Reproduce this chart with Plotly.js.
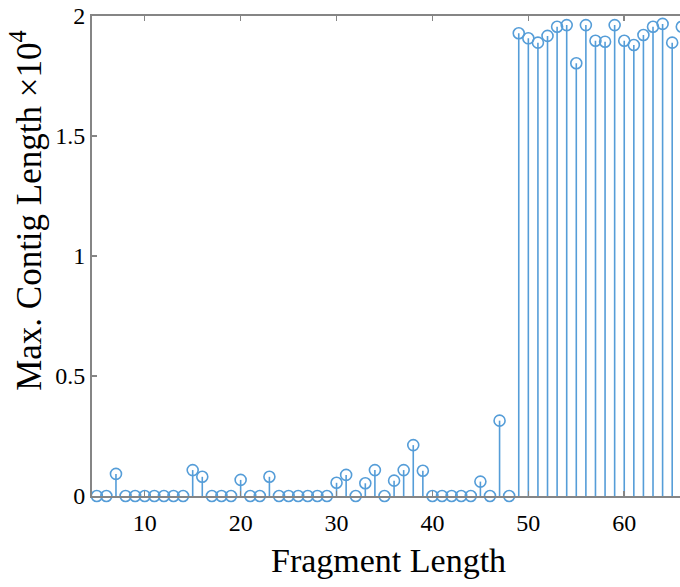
<!DOCTYPE html>
<html>
<head>
<meta charset="utf-8">
<script src="https://cdn.plot.ly/plotly-3.0.1.min.js"></script>
<style>
html, body { margin: 0; padding: 0; overflow: hidden; background: #fff; }
#chart { width: 720px; height: 587px; }
</style>
</head>
<body>
<div id="chart"></div>
<script>
// Fragment length (x) and max contig length in units of 10^4 (y)
var fragmentLength = [5, 6, 7, 8, 9, 10, 11, 12, 13, 14, 15, 16, 17, 18, 19, 20, 21, 22, 23, 24, 25, 26, 27, 28, 29, 30,
  31, 32, 33, 34, 35, 36, 37, 38, 39, 40, 41, 42, 43, 44, 45, 46, 47, 48,
  49, 50, 51, 52, 53, 54, 55, 56, 57, 58, 59, 60, 61, 62, 63, 64, 65, 66];
var maxContig = [0, 0, 0.092, 0, 0, 0, 0, 0, 0, 0, 0.108, 0.080, 0, 0, 0, 0.067, 0, 0, 0.080, 0, 0, 0, 0, 0, 0, 0.055,
  0.088, 0, 0.053, 0.108, 0, 0.064, 0.108, 0.212, 0.105, 0, 0, 0, 0, 0, 0.060, 0, 0.314, 0,
  1.928, 1.907, 1.889, 1.917, 1.955, 1.962, 1.803, 1.962, 1.897, 1.893, 1.962, 1.897, 1.879, 1.921, 1.955, 1.967, 1.889, 1.955];
var yTickVals = [0, 0.5, 1, 1.5, 2];
var yTickText = ["0", "0.5", "1", "1.5", "2"];
var xTickVals = [10, 20, 30, 40, 50, 60];
var xTickText = ["10", "20", "30", "40", "50", "60"];

var stemX = [], stemY = [];
for (var i = 0; i < fragmentLength.length; i++) {
  stemX.push(fragmentLength[i], fragmentLength[i], null);
  stemY.push(0, maxContig[i], null);
}

var blue = "#559dd8";
var traces = [
  {x: stemX, y: stemY, type: "scatter", mode: "lines",
   line: {color: blue, width: 1.6}, hoverinfo: "skip", cliponaxis: false, showlegend: false},
  {x: fragmentLength, y: maxContig, type: "scatter", mode: "markers",
   marker: {symbol: "circle-open", size: 11, color: blue, line: {color: blue, width: 1.6}},
   cliponaxis: false, showlegend: false}
];

var serif = "Liberation Serif, Times New Roman, serif";
var axisColor = "#858585";
var layout = {
  width: 720, height: 587,
  margin: {l: 92, r: 20, t: 16, b: 91},
  paper_bgcolor: "#fff", plot_bgcolor: "#fff",
  font: {family: serif, color: "#000"},
  xaxis: {range: [4.5, 67.9], tickvals: xTickVals, ticktext: xTickText,
    showgrid: false, zeroline: false, showline: true, mirror: "ticks",
    linecolor: axisColor, linewidth: 2, ticks: "inside", ticklen: 5, tickwidth: 1.5, tickcolor: axisColor,
    ticklabelstandoff: 4,
    tickfont: {family: serif, size: 24, color: "#000"}},
  yaxis: {range: [0, 2], tickvals: yTickVals, ticktext: yTickText,
    showgrid: false, zeroline: false, showline: true, mirror: "ticks",
    linecolor: axisColor, linewidth: 2, ticks: "inside", ticklen: 5, tickwidth: 1.5, tickcolor: axisColor,
    tickfont: {family: serif, size: 24, color: "#000"}},
  annotations: [
    {text: "Max. Contig Length ×10<sup>4</sup>", xref: "paper", yref: "paper",
     x: -0.107, y: 0.596, xanchor: "center", yanchor: "middle", textangle: -90,
     showarrow: false, font: {family: serif, size: 35, color: "#000"}},
    {text: "Fragment Length", xref: "paper", yref: "paper",
     x: 0.487, y: -0.135, xanchor: "center", yanchor: "middle",
     showarrow: false, font: {family: serif, size: 34, color: "#000"}}
  ]
};

Plotly.newPlot("chart", traces, layout, {displayModeBar: false, staticPlot: true});
</script>
</body>
</html>
